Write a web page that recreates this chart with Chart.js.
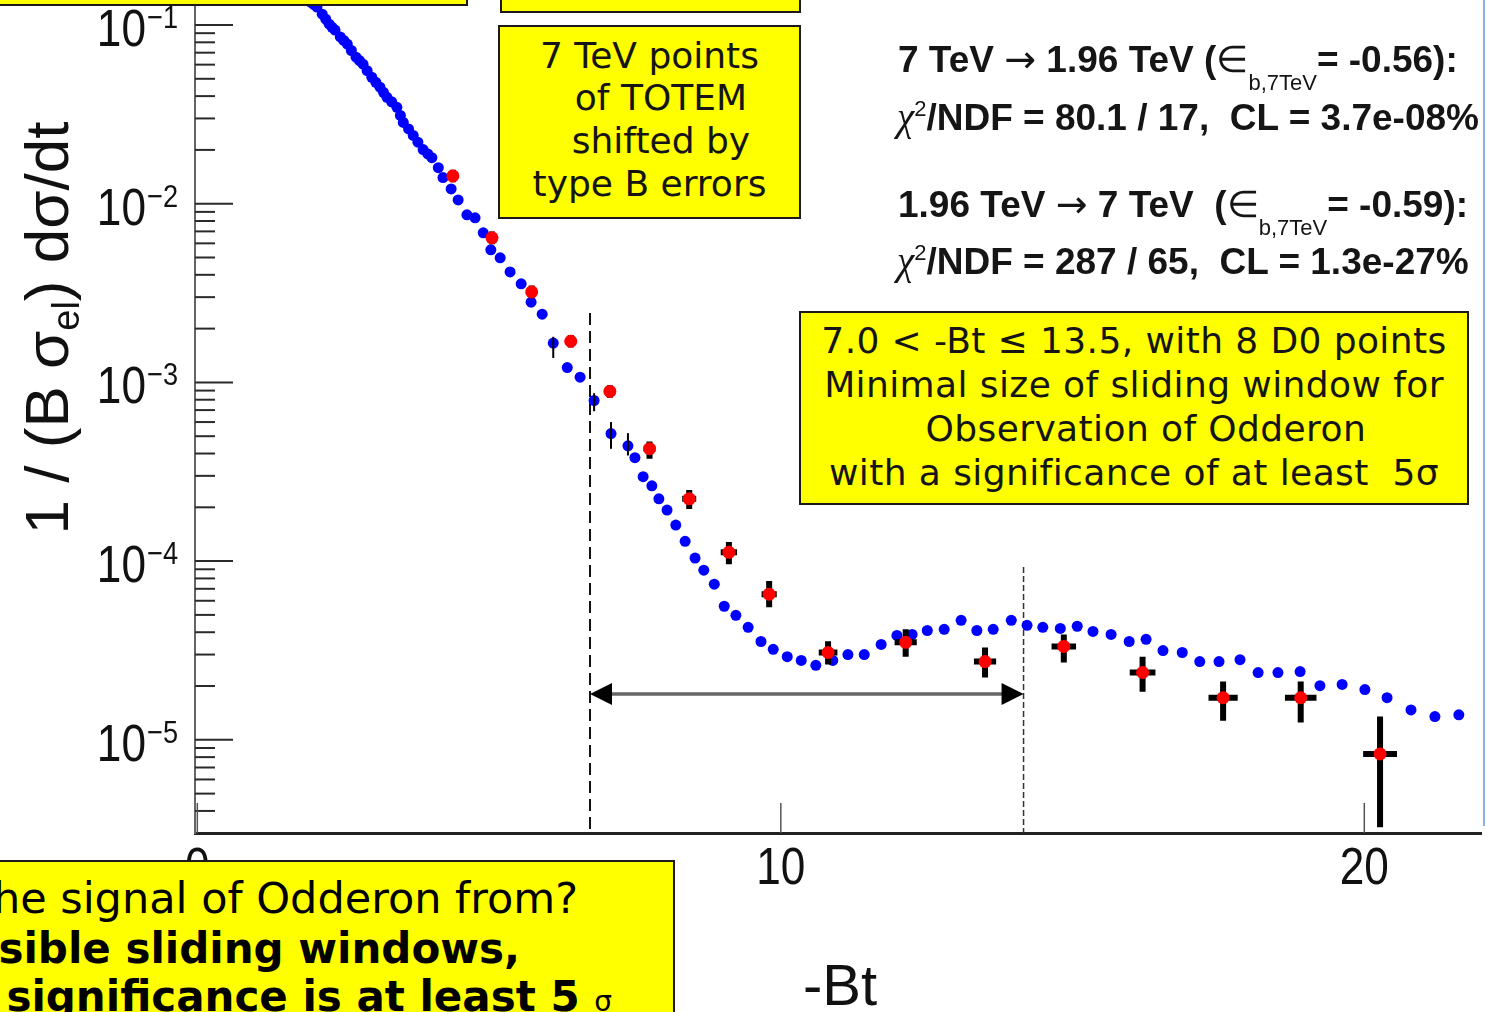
<!DOCTYPE html>
<html>
<head>
<meta charset="utf-8">
<script src="https://cdn.jsdelivr.net/npm/chart.js@4.4.0/dist/chart.umd.min.js"></script>
<style>
    html, body { margin: 0; padding: 0; background: #fff; overflow: hidden; }
    #wrap { position: relative; width: 1487px; height: 1012px; overflow: hidden; }
    #myChart { position: absolute; left: 0; top: 0; }
    .box { position: absolute; box-sizing: border-box; background: #ffff00; border: 2px solid #1a1a1a; }
    .boxtext { position: absolute; left: 0; right: 0; text-align: center; white-space: pre;
               font-family: "DejaVu Sans", Verdana, sans-serif; font-size: 36px; color: #151515; }
    .stat { position: absolute; white-space: pre; font-family: "Liberation Sans", Arial, sans-serif;
            font-weight: bold; font-size: 37px; line-height: 37px; color: #151515; }
    .nb { font-weight: normal; }
    .arr { font-weight: normal; font-family: "DejaVu Sans", sans-serif; font-size: 38px; }
    .chi { font-weight: normal; font-family: "Liberation Serif", "DejaVu Serif", serif; font-style: italic; font-size: 39px; }
    .sub { font-weight: normal; font-size: 22px; position: relative; top: 18px; }
    .sup { font-weight: normal; font-size: 22px; position: relative; top: -14px; }
    .q { position: absolute; width: 900px; text-align: right; white-space: pre;
         font-family: "DejaVu Sans", Verdana, sans-serif; font-size: 42px; line-height: 42px; color: #000; }
    #ytitle { position: absolute; width: 600px; height: 60px; line-height: 60px; left: -253px; top: 298px;
              text-align: center; white-space: pre; font-family: "Liberation Sans", Arial, sans-serif;
              font-size: 62px; color: #111; transform: rotate(-90deg); }
    #ytitle .ysub { font-size: 38px; position: relative; top: 11px; }
    #xtitle { position: absolute; width: 200px; left: 740px; top: 956px; line-height: 58px; text-align: center;
              font-family: "Liberation Sans", Arial, sans-serif; font-size: 58px; color: #111; }
    #edge { position: absolute; left: 1483px; top: 0; width: 2px; height: 826px; background: #8db3e2; }
</style>
</head>
<body>
<div id="wrap">
    <canvas id="myChart" width="1487" height="1012"></canvas>

    <div id="ytitle">1 / (B σ<span class="ysub">el</span>) dσ/dt</div>
    <div id="xtitle">-Bt</div>
    <div id="edge"></div>

    <div class="box" style="left:-10px; top:-20px; width:478px; height:26px;"></div>
    <div class="box" style="left:500px; top:-20px; width:301px; height:33px;"></div>

    <div class="box" style="left:498px; top:25px; width:303px; height:194px;">
        <div class="boxtext" style="top:7.5px; line-height:42.8px;">7 TeV points
  of TOTEM
  shifted by
type B errors</div>
    </div>

    <div class="box" style="left:799px; top:311px; width:670px; height:194px;">
        <div class="boxtext" style="top:6px; line-height:43.9px; letter-spacing:0.4px;">7.0 &lt; -Bt ≤ 13.5, with 8 D0 points
Minimal size of sliding window for
  Observation of Odderon
with a significance of at least  5σ</div>
    </div>

    <div class="stat" style="left:898px; top:41px;">7 TeV <span class="arr">→</span> 1.96 TeV (<span class="nb">∈</span><span class="sub">b,7TeV</span>= -0.56):</div>
    <div class="stat" style="left:897px; top:98px;"><span class="chi">χ</span><span class="sup">2</span>/NDF = 80.1 / 17,  CL = 3.7e-08%</div>
    <div class="stat" style="left:898px; top:186px;">1.96 TeV <span class="arr">→</span> 7 TeV  (<span class="nb">∈</span><span class="sub">b,7TeV</span>= -0.59):</div>
    <div class="stat" style="left:897px; top:242px;"><span class="chi">χ</span><span class="sup">2</span>/NDF = 287 / 65,  CL = 1.3e-27%</div>

    <div class="box" style="left:-10px; top:860px; width:685px; height:200px;"></div>
    <div class="q" style="left:-322px; top:877px; font-size:43px;">Where is the signal of Odderon from?</div>
    <div class="q" style="left:-380px; top:927.5px; font-weight:bold;">All possible sliding windows,</div>
    <div class="q" style="left:-288px; top:975.5px; font-weight:bold;">where the significance is at least 5 <span style="font-size:28px; font-weight:normal;">σ</span></div>
</div>

<script>
// TOTEM 7 TeV points (blue), -Bt and 1/(B sigma_el) dsigma/dt
const blueX = [1.95, 2.00, 2.05, 2.14, 2.20, 2.26, 2.31, 2.36, 2.45, 2.51, 2.57, 2.64, 2.72, 2.78, 2.84,
    2.91, 2.99, 3.06, 3.13, 3.19, 3.25, 3.33, 3.42, 3.48, 3.53, 3.62, 3.70, 3.78, 3.87, 3.95,
    4.02, 4.13, 4.21, 4.35, 4.47, 4.62, 4.76, 4.90, 5.03, 5.19, 5.36, 5.55, 5.72, 5.91, 6.10, 6.34,
    6.56, 6.80, 7.09, 7.38, 7.50, 7.64, 7.79, 7.91, 8.05, 8.20, 8.36, 8.53, 8.68, 8.86, 9.03, 9.23, 9.44,
    9.66, 9.87, 10.11, 10.35, 10.60, 10.89, 11.15, 11.43, 11.72, 11.99, 12.25, 12.51, 12.80, 13.09, 13.36,
    13.64, 13.95, 14.22, 14.49, 14.79, 15.08, 15.35, 15.66, 15.97, 16.26, 16.55, 16.88, 17.18, 17.51,
    17.87, 18.18, 18.52, 18.90, 19.24, 19.62, 20.01, 20.39, 20.80, 21.21, 21.62];
const blueY = [0.134, 0.130, 0.126, 0.115, 0.108, 0.101, 0.097, 0.0937, 0.0857, 0.082, 0.0782, 0.072,
    0.0661, 0.0632, 0.0604, 0.0555, 0.0510, 0.0478, 0.0449, 0.0420, 0.0394, 0.0372, 0.0346, 0.0312,
    0.0285, 0.0262, 0.0241, 0.0221, 0.0201, 0.0190, 0.0181, 0.0159, 0.0140, 0.0121, 0.0105, 0.00867,
    0.00834, 0.00687,
    0.00552, 0.00498, 0.00415, 0.00356, 0.00281, 0.00241, 0.00166, 0.00121, 0.00107, 7.92e-4, 5.17e-4,
    4.42e-4, 3.79e-4, 2.97e-4, 2.64e-4, 2.23e-4, 1.93e-4, 1.59e-4, 1.29e-4, 1.04e-4, 8.9e-5, 7.43e-5,
    5.59e-5, 4.97e-5, 4.26e-5, 3.55e-5, 3.21e-5, 2.92e-5, 2.78e-5, 2.61e-5, 2.78e-5, 3.0e-5, 3.0e-5,
    3.42e-5, 3.84e-5, 3.89e-5, 4.09e-5, 4.15e-5, 4.66e-5, 4.09e-5, 4.15e-5, 4.66e-5, 4.37e-5, 4.26e-5,
    4.2e-5, 4.32e-5, 4.04e-5, 3.89e-5, 3.55e-5, 3.65e-5, 3.16e-5, 3.08e-5, 2.74e-5, 2.74e-5, 2.81e-5,
    2.38e-5, 2.38e-5, 2.41e-5, 2.01e-5, 2.04e-5, 1.91e-5, 1.72e-5, 1.47e-5, 1.35e-5, 1.38e-5];

// the few blue points that show an error bar
const blueErrX = [6.10, 6.80, 7.09, 7.38];
const blueErrLo = [1.37e-3, 6.9e-4, 4.25e-4, 3.9e-4];
const blueErrHi = [1.8e-3, 8.7e-4, 6.0e-4, 5.2e-4];

// D0 1.96 TeV points (red) with errors
const redX = [4.38, 5.05, 5.73, 6.40, 7.07, 7.75, 8.43, 9.11, 9.80, 10.81, 12.14, 13.50, 14.85, 16.20, 17.58, 18.91, 20.27];
const redY = [1.43e-2, 6.44e-3, 3.21e-3, 1.70e-3, 8.9e-4, 4.26e-4, 2.23e-4, 1.12e-4, 6.53e-5, 3.08e-5,
    3.51e-5, 2.74e-5, 3.33e-5, 2.38e-5, 1.72e-5, 1.72e-5, 8.34e-6];
const redYHi = [1.55e-2, 6.98e-3, 3.48e-3, 1.84e-3, 9.65e-4, 4.67e-4, 2.5e-4, 1.28e-4, 7.73e-5, 3.56e-5,
    4.15e-5, 3.29e-5, 3.89e-5, 2.92e-5, 2.12e-5, 2.12e-5, 1.35e-5];
const redYLo = [1.32e-2, 5.94e-3, 2.96e-3, 1.57e-3, 8.2e-4, 3.74e-4, 1.96e-4, 9.6e-5, 5.52e-5, 2.64e-5,
    2.92e-5, 2.23e-5, 2.71e-5, 1.86e-5, 1.28e-5, 1.25e-5, 3.24e-6];
const redXErr = [0.08, 0.08, 0.08, 0.08, 0.08, 0.10, 0.12, 0.14, 0.13, 0.16, 0.19, 0.19, 0.21, 0.22, 0.25, 0.27, 0.29];

// axes
const xTicks = [0, 10, 20];
const yDecades = [-1, -2, -3, -4, -5, -6];
const yTickLabels = ['−1', '−2', '−3', '−4', '−5'];

// sliding window: start, end, arrow level
const windowStart = 6.73;
const windowEnd = 14.16;
const windowStartTop = 2.445e-3;
const windowEndTop = 9.27e-5;
const arrowY = 1.803e-5;

const yMin = 3.01e-6;
const yMax = 0.138;

function drawCondensed(ctx, text, x, y, size, align) {
    ctx.save();
    ctx.font = size + 'px "Liberation Sans", Arial, sans-serif';
    ctx.textAlign = align;
    ctx.textBaseline = 'alphabetic';
    ctx.translate(x, y);
    ctx.scale(0.85, 1);
    ctx.fillText(text, 0, 0);
    ctx.restore();
}

const decorPlugin = {
    id: 'decor',
    beforeDatasetsDraw(chart) {
        const {ctx, chartArea, scales: {x, y}} = chart;
        ctx.save();

        // y ticks, inside the frame
        y.ticks.forEach(t => {
            const py = y.getPixelForValue(t.value);
            const lg = Math.log10(t.value);
            const major = Math.abs(lg - Math.round(lg)) < 1e-6;
            ctx.strokeStyle = '#2a2a2a';
            ctx.lineWidth = 2;
            ctx.beginPath();
            ctx.moveTo(chartArea.left, py);
            ctx.lineTo(chartArea.left + (major ? 38 : 20), py);
            ctx.stroke();
        });

        // x ticks, pointing up
        xTicks.forEach(v => {
            const px = x.getPixelForValue(v);
            ctx.strokeStyle = '#555';
            ctx.lineWidth = 1.5;
            ctx.beginPath();
            ctx.moveTo(px, chartArea.bottom);
            ctx.lineTo(px, chartArea.bottom - 30);
            ctx.stroke();
        });

        // dashed window limits
        const x1 = x.getPixelForValue(windowStart);
        const x2 = x.getPixelForValue(windowEnd);
        ctx.strokeStyle = '#111';
        ctx.lineWidth = 2;
        ctx.setLineDash([12, 6]);
        ctx.beginPath();
        ctx.moveTo(x1, y.getPixelForValue(windowStartTop));
        ctx.lineTo(x1, chartArea.bottom);
        ctx.stroke();
        ctx.strokeStyle = '#333';
        ctx.lineWidth = 1.5;
        ctx.setLineDash([6, 3]);
        ctx.beginPath();
        ctx.moveTo(x2, y.getPixelForValue(windowEndTop));
        ctx.lineTo(x2, chartArea.bottom);
        ctx.stroke();
        ctx.setLineDash([]);

        // double arrow
        const ay = y.getPixelForValue(arrowY);
        ctx.strokeStyle = '#666';
        ctx.lineWidth = 3.5;
        ctx.beginPath();
        ctx.moveTo(x1 + 10, ay);
        ctx.lineTo(x2 - 10, ay);
        ctx.stroke();
        ctx.fillStyle = '#000';
        ctx.beginPath();
        ctx.moveTo(x1, ay);
        ctx.lineTo(x1 + 22, ay - 11);
        ctx.lineTo(x1 + 22, ay + 11);
        ctx.closePath();
        ctx.fill();
        ctx.beginPath();
        ctx.moveTo(x2, ay);
        ctx.lineTo(x2 - 22, ay - 11);
        ctx.lineTo(x2 - 22, ay + 11);
        ctx.closePath();
        ctx.fill();

        // tick labels
        ctx.fillStyle = '#111';
        yDecades.forEach((d, i) => {
            if (!yTickLabels[i]) return;
            const py = y.getPixelForValue(Math.pow(10, d));
            drawCondensed(ctx, '10', 146, py + 21, 52, 'right');
            drawCondensed(ctx, yTickLabels[i], 147, py + 3, 32, 'left');
        });
        xTicks.forEach(v => {
            drawCondensed(ctx, String(v), x.getPixelForValue(v), 884, 52, 'center');
        });

        ctx.restore();
    },
    afterDatasetDraw(chart, args) {
        if (args.index !== 1) return;
        const {ctx, scales: {x, y}} = chart;
        ctx.save();
        ctx.strokeStyle = '#000';
        ctx.lineWidth = 2;
        blueErrX.forEach((v, i) => {
            const px = x.getPixelForValue(v);
            ctx.beginPath();
            ctx.moveTo(px, y.getPixelForValue(blueErrHi[i]));
            ctx.lineTo(px, y.getPixelForValue(blueErrLo[i]));
            ctx.stroke();
        });
        ctx.restore();
    },
    beforeDatasetDraw(chart, args) {
        if (args.index !== 0) return;
        const {ctx, scales: {x, y}} = chart;
        ctx.save();
        ctx.strokeStyle = '#000';
        ctx.lineWidth = 6;
        redX.forEach((v, i) => {
            const px = x.getPixelForValue(v);
            const py = y.getPixelForValue(redY[i]);
            ctx.beginPath();
            ctx.moveTo(px, y.getPixelForValue(redYHi[i]));
            ctx.lineTo(px, y.getPixelForValue(redYLo[i]));
            ctx.moveTo(x.getPixelForValue(v - redXErr[i]), py);
            ctx.lineTo(x.getPixelForValue(v + redXErr[i]), py);
            ctx.stroke();
        });
        ctx.restore();
    }
};

const ctx = document.getElementById('myChart').getContext('2d');
const myChart = new Chart(ctx, {
    type: 'scatter',
    data: {
        datasets: [
            {
                label: 'D0 1.96 TeV',
                data: redX.map((v, i) => ({x: v, y: redY[i]})),
                pointRadius: 6.5,
                pointBackgroundColor: '#ff0000',
                pointBorderWidth: 0,
                order: 0
            },
            {
                label: 'TOTEM 7 TeV',
                data: blueX.map((v, i) => ({x: v, y: blueY[i]})),
                pointRadius: 5.5,
                pointBackgroundColor: '#0000ff',
                pointBorderWidth: 0,
                order: 1
            }
        ]
    },
    options: {
        responsive: false,
        animation: false,
        events: [],
        layout: {
            padding: {left: 195, right: 6, top: 0, bottom: 179},
            autoPadding: false
        },
        plugins: {
            legend: {display: false},
            tooltip: {enabled: false}
        },
        scales: {
            x: {
                type: 'linear',
                min: -0.04,
                max: 22,
                grid: {display: false, drawTicks: false},
                ticks: {display: false},
                border: {display: true, color: '#222', width: 3},
                afterFit: function (scale) { scale.height = 0; }
            },
            y: {
                type: 'logarithmic',
                min: yMin,
                max: yMax,
                grid: {display: false, drawTicks: false},
                ticks: {display: false},
                border: {display: true, color: '#666', width: 2},
                afterFit: function (scale) { scale.width = 0; },
                afterBuildTicks: function (scale) {
                    const ticks = [];
                    yDecades.forEach(d => {
                        for (let s = 1; s <= 9; s++) {
                            const v = s * Math.pow(10, d);
                            if (v >= yMin && v <= yMax) ticks.push({value: v});
                        }
                    });
                    scale.ticks = ticks;
                }
            }
        }
    },
    plugins: [decorPlugin]
});
</script>
</body>
</html>
